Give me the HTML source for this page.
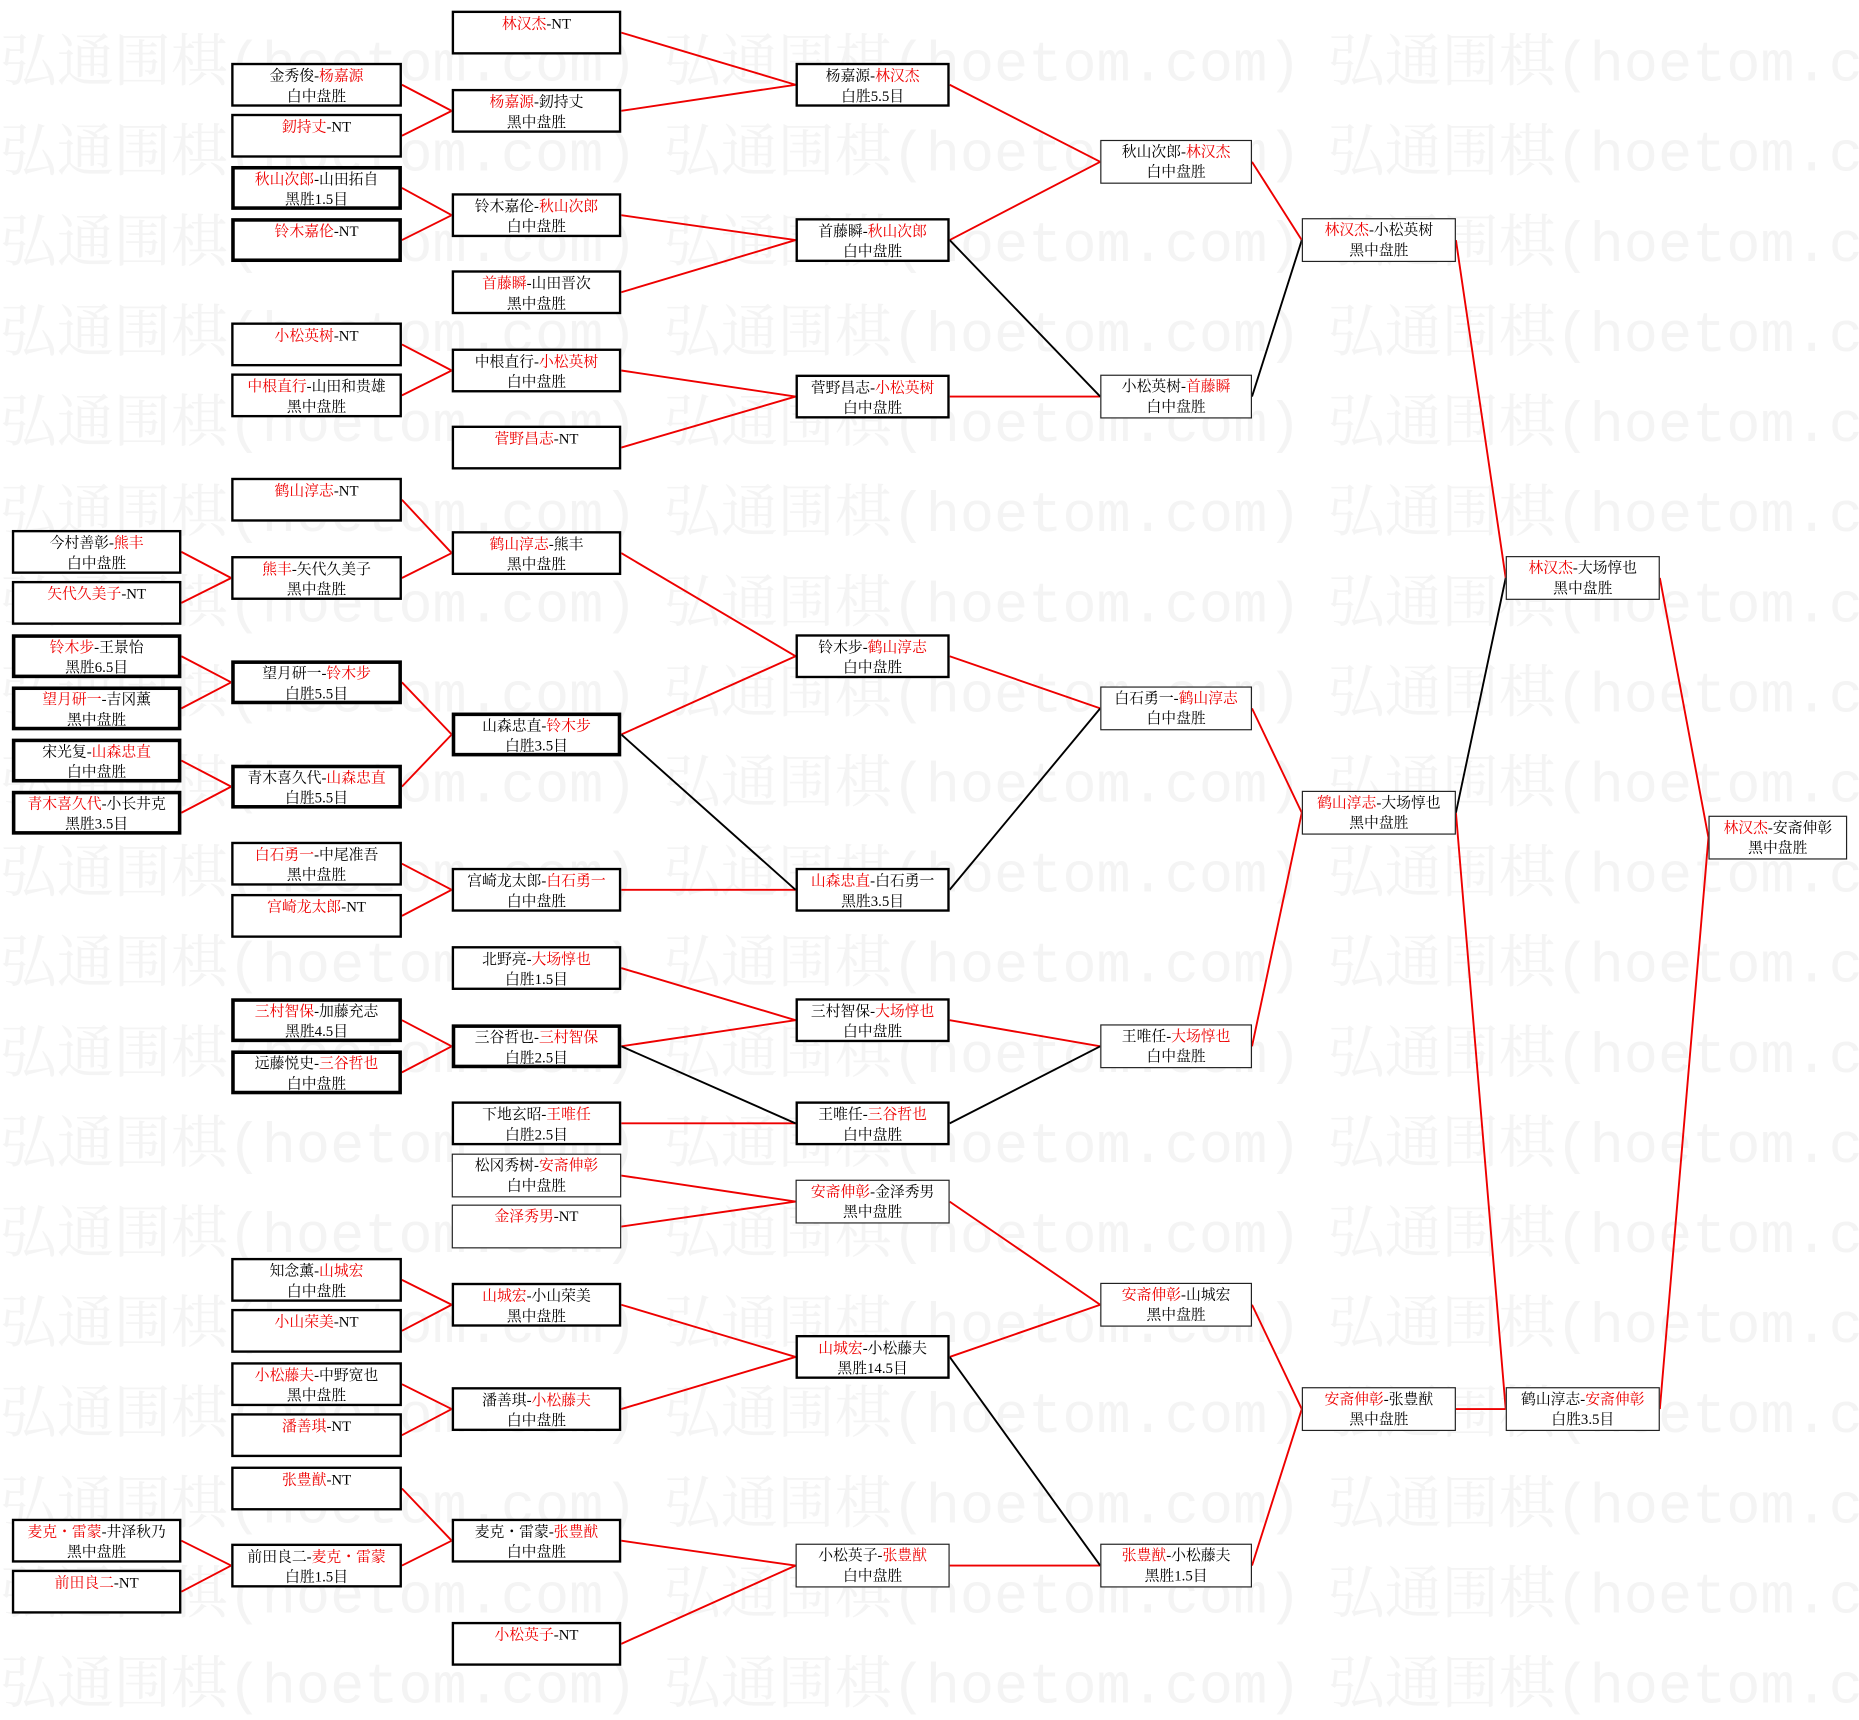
<!DOCTYPE html>
<html><head><meta charset="utf-8">
<style>
html,body{margin:0;padding:0;background:#fff;}
body{width:1859px;height:1677px;overflow:hidden;position:relative;}
#wrap{position:absolute;left:0;top:0;width:1568px;height:1415px;transform:scale(1.1856);transform-origin:0 0;}
.wm{position:absolute;font-family:"Liberation Mono","Noto Serif CJK SC",monospace;font-size:48px;color:#f4f4f4;white-space:nowrap;line-height:1;}
.b{position:absolute;height:37px;box-sizing:border-box;border:2px solid #000;background:#fff;text-align:center;font-family:"Liberation Serif","Noto Serif CJK SC",serif;font-size:12.5px;line-height:17px;padding-top:1px;color:#000;white-space:nowrap;overflow:hidden;}
.t{border-width:3px;padding-top:0;}
.th{border-width:1.5px;border-color:#222;}
.r{color:#e00;}
.c0{left:10px;width:143px}.c1{left:195px;width:144px}.c2{left:381px;width:143px}.c3{left:671px;width:130px}
.c4{left:928px;width:128px}.c5{left:1098px;width:130px}.c6{left:1270px;width:130px}.c7{left:1441px;width:117px}
svg{position:absolute;left:0;top:0;}
</style></head><body><div id="wrap">
<div class="wm" style="left:0;top:32px">弘通围棋(hoetom.com)</div><div class="wm" style="left:560px;top:32px">弘通围棋(hoetom.com)</div><div class="wm" style="left:1120px;top:32px">弘通围棋(hoetom.com)</div>
<div class="wm" style="left:0;top:108px">弘通围棋(hoetom.com)</div><div class="wm" style="left:560px;top:108px">弘通围棋(hoetom.com)</div><div class="wm" style="left:1120px;top:108px">弘通围棋(hoetom.com)</div>
<div class="wm" style="left:0;top:184px">弘通围棋(hoetom.com)</div><div class="wm" style="left:560px;top:184px">弘通围棋(hoetom.com)</div><div class="wm" style="left:1120px;top:184px">弘通围棋(hoetom.com)</div>
<div class="wm" style="left:0;top:260px">弘通围棋(hoetom.com)</div><div class="wm" style="left:560px;top:260px">弘通围棋(hoetom.com)</div><div class="wm" style="left:1120px;top:260px">弘通围棋(hoetom.com)</div>
<div class="wm" style="left:0;top:336px">弘通围棋(hoetom.com)</div><div class="wm" style="left:560px;top:336px">弘通围棋(hoetom.com)</div><div class="wm" style="left:1120px;top:336px">弘通围棋(hoetom.com)</div>
<div class="wm" style="left:0;top:412px">弘通围棋(hoetom.com)</div><div class="wm" style="left:560px;top:412px">弘通围棋(hoetom.com)</div><div class="wm" style="left:1120px;top:412px">弘通围棋(hoetom.com)</div>
<div class="wm" style="left:0;top:488px">弘通围棋(hoetom.com)</div><div class="wm" style="left:560px;top:488px">弘通围棋(hoetom.com)</div><div class="wm" style="left:1120px;top:488px">弘通围棋(hoetom.com)</div>
<div class="wm" style="left:0;top:564px">弘通围棋(hoetom.com)</div><div class="wm" style="left:560px;top:564px">弘通围棋(hoetom.com)</div><div class="wm" style="left:1120px;top:564px">弘通围棋(hoetom.com)</div>
<div class="wm" style="left:0;top:640px">弘通围棋(hoetom.com)</div><div class="wm" style="left:560px;top:640px">弘通围棋(hoetom.com)</div><div class="wm" style="left:1120px;top:640px">弘通围棋(hoetom.com)</div>
<div class="wm" style="left:0;top:716px">弘通围棋(hoetom.com)</div><div class="wm" style="left:560px;top:716px">弘通围棋(hoetom.com)</div><div class="wm" style="left:1120px;top:716px">弘通围棋(hoetom.com)</div>
<div class="wm" style="left:0;top:792px">弘通围棋(hoetom.com)</div><div class="wm" style="left:560px;top:792px">弘通围棋(hoetom.com)</div><div class="wm" style="left:1120px;top:792px">弘通围棋(hoetom.com)</div>
<div class="wm" style="left:0;top:868px">弘通围棋(hoetom.com)</div><div class="wm" style="left:560px;top:868px">弘通围棋(hoetom.com)</div><div class="wm" style="left:1120px;top:868px">弘通围棋(hoetom.com)</div>
<div class="wm" style="left:0;top:944px">弘通围棋(hoetom.com)</div><div class="wm" style="left:560px;top:944px">弘通围棋(hoetom.com)</div><div class="wm" style="left:1120px;top:944px">弘通围棋(hoetom.com)</div>
<div class="wm" style="left:0;top:1020px">弘通围棋(hoetom.com)</div><div class="wm" style="left:560px;top:1020px">弘通围棋(hoetom.com)</div><div class="wm" style="left:1120px;top:1020px">弘通围棋(hoetom.com)</div>
<div class="wm" style="left:0;top:1096px">弘通围棋(hoetom.com)</div><div class="wm" style="left:560px;top:1096px">弘通围棋(hoetom.com)</div><div class="wm" style="left:1120px;top:1096px">弘通围棋(hoetom.com)</div>
<div class="wm" style="left:0;top:1172px">弘通围棋(hoetom.com)</div><div class="wm" style="left:560px;top:1172px">弘通围棋(hoetom.com)</div><div class="wm" style="left:1120px;top:1172px">弘通围棋(hoetom.com)</div>
<div class="wm" style="left:0;top:1248px">弘通围棋(hoetom.com)</div><div class="wm" style="left:560px;top:1248px">弘通围棋(hoetom.com)</div><div class="wm" style="left:1120px;top:1248px">弘通围棋(hoetom.com)</div>
<div class="wm" style="left:0;top:1324px">弘通围棋(hoetom.com)</div><div class="wm" style="left:560px;top:1324px">弘通围棋(hoetom.com)</div><div class="wm" style="left:1120px;top:1324px">弘通围棋(hoetom.com)</div>
<div class="wm" style="left:0;top:1400px">弘通围棋(hoetom.com)</div><div class="wm" style="left:560px;top:1400px">弘通围棋(hoetom.com)</div><div class="wm" style="left:1120px;top:1400px">弘通围棋(hoetom.com)</div>

<svg width="1568" height="1415" viewBox="0 0 1568 1415">
<g stroke="#e00" stroke-width="1.6" fill="none">
<path d="M339 71.5L381 93.5M339 114.5L381 93.5M339 158.5L381 181.5M339 202.5L381 181.5M339 290.5L381 312.5M339 333.5L381 312.5M339 421.5L381 466.5M339 487.5L381 466.5M339 575.5L381 619.5M339 663.5L381 619.5M339 728.5L381 750.5M339 772.5L381 750.5M339 860.5L381 882.5M339 904.5L381 882.5M339 1079.5L381 1100.5M339 1122.5L381 1100.5M339 1167.5L381 1188.5M339 1210.5L381 1188.5M339 1255.5L381 1299.5M339 1320.5L381 1299.5"/>
<path d="M153 465.5L195 487.5M153 508.5L195 487.5M153 553.5L195 575.5M153 597.5L195 575.5M153 641.5L195 663.5M153 685.5L195 663.5M153 1299.5L195 1320.5M153 1342.5L195 1320.5"/>
<path d="M524 27.5L671 71.5M524 93.5L671 71.5M524 181.5L671 202.5M524 246.5L671 202.5M524 312.5L671 334.5M524 377.5L671 334.5M524 466.5L671 553.5M524 619.5L671 553.5M524 750.5L671 750.5M524 816.5L671 860.5M524 882.5L671 860.5M524 947.5L671 947.5M524 991.5L671 1013.5M524 1034.5L671 1013.5M524 1100.5L671 1144.5M524 1188.5L671 1144.5M524 1299.5L671 1320.5M524 1386.5L671 1320.5"/>
<path d="M801 71.5L928 136.5M801 202.5L928 136.5M801 334.5L928 334.5M801 553.5L928 597.5M801 860.5L928 882.5M801 1013.5L928 1100.5M801 1144.5L928 1100.5M801 1320.5L928 1320.5"/>
<path d="M1056 136.5L1098 202.5M1056 597.5L1098 685.5M1056 882.5L1098 685.5M1056 1100.5L1098 1188.5M1056 1320.5L1098 1188.5"/>
<path d="M1228 202.5L1270 487.5M1228 685.5L1270 1188.5M1228 1188.5L1270 1188.5M1400 487.5L1441 706.5M1400 1188.5L1441 706.5"/>
</g>
<g stroke="#000" stroke-width="1.6" fill="none">
<path d="M524 619.5L671 750.5M524 882.5L671 947.5M801 202.5L928 334.5M801 750.5L928 597.5M801 947.5L928 882.5M801 1144.5L928 1320.5M1056 334.5L1098 202.5M1228 685.5L1270 487.5"/>
</g>
</svg>

<div class="b c0" style="top:447px">今村善彰-<span class="r">熊丰</span><br>白中盘胜</div>
<div class="b c0" style="top:490px"><span class="r">矢代久美子</span>-NT</div>
<div class="b c0 t" style="top:535px"><span class="r">铃木步</span>-王景怡<br>黑胜6.5目</div>
<div class="b c0 t" style="top:579px"><span class="r">望月研一</span>-吉冈薰<br>黑中盘胜</div>
<div class="b c0 t" style="top:623px">宋光复-<span class="r">山森忠直</span><br>白中盘胜</div>
<div class="b c0 t" style="top:667px"><span class="r">青木喜久代</span>-小长井克<br>黑胜3.5目</div>
<div class="b c0" style="top:1281px"><span class="r">麦克・雷蒙</span>-井泽秋乃<br>黑中盘胜</div>
<div class="b c0" style="top:1324px"><span class="r">前田良二</span>-NT</div>
<div class="b c1" style="top:53px">金秀俊-<span class="r">杨嘉源</span><br>白中盘胜</div>
<div class="b c1" style="top:96px"><span class="r">釰持丈</span>-NT</div>
<div class="b c1 t" style="top:140px"><span class="r">秋山次郎</span>-山田拓自<br>黑胜1.5目</div>
<div class="b c1 t" style="top:184px"><span class="r">铃木嘉伦</span>-NT</div>
<div class="b c1" style="top:272px"><span class="r">小松英树</span>-NT</div>
<div class="b c1" style="top:315px"><span class="r">中根直行</span>-山田和贵雄<br>黑中盘胜</div>
<div class="b c1" style="top:403px"><span class="r">鹤山淳志</span>-NT</div>
<div class="b c1" style="top:469px"><span class="r">熊丰</span>-矢代久美子<br>黑中盘胜</div>
<div class="b c1 t" style="top:557px">望月研一-<span class="r">铃木步</span><br>白胜5.5目</div>
<div class="b c1 t" style="top:645px">青木喜久代-<span class="r">山森忠直</span><br>白胜5.5目</div>
<div class="b c1" style="top:710px"><span class="r">白石勇一</span>-中尾准吾<br>黑中盘胜</div>
<div class="b c1" style="top:754px"><span class="r">宫崎龙太郎</span>-NT</div>
<div class="b c1 t" style="top:842px"><span class="r">三村智保</span>-加藤充志<br>黑胜4.5目</div>
<div class="b c1 t" style="top:886px">远藤悦史-<span class="r">三谷哲也</span><br>白中盘胜</div>
<div class="b c1" style="top:1061px">知念薰-<span class="r">山城宏</span><br>白中盘胜</div>
<div class="b c1" style="top:1104px"><span class="r">小山荣美</span>-NT</div>
<div class="b c1" style="top:1149px"><span class="r">小松藤夫</span>-中野宽也<br>黑中盘胜</div>
<div class="b c1" style="top:1192px"><span class="r">潘善琪</span>-NT</div>
<div class="b c1" style="top:1237px"><span class="r">张豊猷</span>-NT</div>
<div class="b c1" style="top:1302px">前田良二-<span class="r">麦克・雷蒙</span><br>白胜1.5目</div>
<div class="b c2" style="top:9px"><span class="r">林汉杰</span>-NT</div>
<div class="b c2" style="top:75px"><span class="r">杨嘉源</span>-釰持丈<br>黑中盘胜</div>
<div class="b c2" style="top:163px">铃木嘉伦-<span class="r">秋山次郎</span><br>白中盘胜</div>
<div class="b c2" style="top:228px"><span class="r">首藤瞬</span>-山田晋次<br>黑中盘胜</div>
<div class="b c2" style="top:294px">中根直行-<span class="r">小松英树</span><br>白中盘胜</div>
<div class="b c2" style="top:359px"><span class="r">菅野昌志</span>-NT</div>
<div class="b c2" style="top:448px"><span class="r">鹤山淳志</span>-熊丰<br>黑中盘胜</div>
<div class="b c2 t" style="top:601px">山森忠直-<span class="r">铃木步</span><br>白胜3.5目</div>
<div class="b c2" style="top:732px">宫崎龙太郎-<span class="r">白石勇一</span><br>白中盘胜</div>
<div class="b c2" style="top:798px">北野亮-<span class="r">大场惇也</span><br>白胜1.5目</div>
<div class="b c2 t" style="top:864px">三谷哲也-<span class="r">三村智保</span><br>白胜2.5目</div>
<div class="b c2" style="top:929px">下地玄昭-<span class="r">王唯任</span><br>白胜2.5目</div>
<div class="b c2 th" style="top:973px">松冈秀树-<span class="r">安斋伸彰</span><br>白中盘胜</div>
<div class="b c2 th" style="top:1016px"><span class="r">金泽秀男</span>-NT</div>
<div class="b c2" style="top:1082px"><span class="r">山城宏</span>-小山荣美<br>黑中盘胜</div>
<div class="b c2" style="top:1170px">潘善琪-<span class="r">小松藤夫</span><br>白中盘胜</div>
<div class="b c2" style="top:1281px">麦克・雷蒙-<span class="r">张豊猷</span><br>白中盘胜</div>
<div class="b c2" style="top:1368px"><span class="r">小松英子</span>-NT</div>
<div class="b c3" style="top:53px">杨嘉源-<span class="r">林汉杰</span><br>白胜5.5目</div>
<div class="b c3" style="top:184px">首藤瞬-<span class="r">秋山次郎</span><br>白中盘胜</div>
<div class="b c3" style="top:316px">菅野昌志-<span class="r">小松英树</span><br>白中盘胜</div>
<div class="b c3" style="top:535px">铃木步-<span class="r">鹤山淳志</span><br>白中盘胜</div>
<div class="b c3" style="top:732px"><span class="r">山森忠直</span>-白石勇一<br>黑胜3.5目</div>
<div class="b c3" style="top:842px">三村智保-<span class="r">大场惇也</span><br>白中盘胜</div>
<div class="b c3" style="top:929px">王唯任-<span class="r">三谷哲也</span><br>白中盘胜</div>
<div class="b c3 th" style="top:995px"><span class="r">安斋伸彰</span>-金泽秀男<br>黑中盘胜</div>
<div class="b c3" style="top:1126px"><span class="r">山城宏</span>-小松藤夫<br>黑胜14.5目</div>
<div class="b c3 th" style="top:1302px">小松英子-<span class="r">张豊猷</span><br>白中盘胜</div>
<div class="b c4 th" style="top:118px">秋山次郎-<span class="r">林汉杰</span><br>白中盘胜</div>
<div class="b c4 th" style="top:316px">小松英树-<span class="r">首藤瞬</span><br>白中盘胜</div>
<div class="b c4 th" style="top:579px">白石勇一-<span class="r">鹤山淳志</span><br>白中盘胜</div>
<div class="b c4 th" style="top:864px">王唯任-<span class="r">大场惇也</span><br>白中盘胜</div>
<div class="b c4 th" style="top:1082px"><span class="r">安斋伸彰</span>-山城宏<br>黑中盘胜</div>
<div class="b c4 th" style="top:1302px"><span class="r">张豊猷</span>-小松藤夫<br>黑胜1.5目</div>
<div class="b c5 th" style="top:184px"><span class="r">林汉杰</span>-小松英树<br>黑中盘胜</div>
<div class="b c5 th" style="top:667px"><span class="r">鹤山淳志</span>-大场惇也<br>黑中盘胜</div>
<div class="b c5 th" style="top:1170px"><span class="r">安斋伸彰</span>-张豊猷<br>黑中盘胜</div>
<div class="b c6 th" style="top:469px"><span class="r">林汉杰</span>-大场惇也<br>黑中盘胜</div>
<div class="b c6 th" style="top:1170px">鹤山淳志-<span class="r">安斋伸彰</span><br>白胜3.5目</div>
<div class="b c7 th" style="top:688px"><span class="r">林汉杰</span>-安斋伸彰<br>黑中盘胜</div>
</div></body></html>
